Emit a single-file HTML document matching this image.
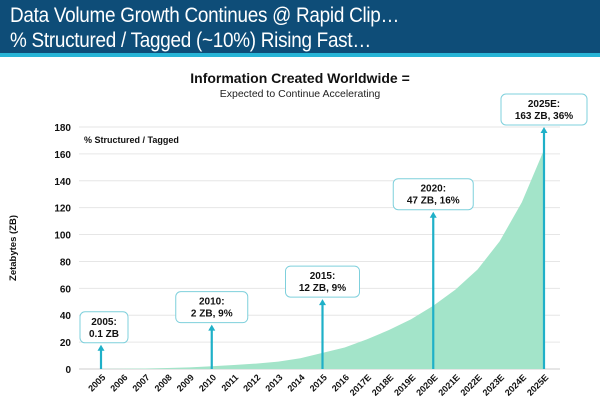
<!DOCTYPE html>
<html><head><meta charset="utf-8"><style>
body{margin:0;width:600px;height:414px;overflow:hidden;background:#fff;font-family:"Liberation Sans",Arial,sans-serif}
</style></head><body>
<div style="position:absolute;left:0;top:0;width:600px;height:53px;background:#0e4d78;border-bottom:4px solid #27b4d6"></div>
<div style="position:absolute;left:10px;top:3px;color:#fff;font-size:21px;line-height:25px;letter-spacing:-0.3px;transform:scaleX(0.9);transform-origin:0 0;white-space:nowrap">Data Volume Growth Continues @ Rapid Clip…<br>% Structured / Tagged (~10%) Rising Fast…</div>
<svg width="600" height="414" style="position:absolute;left:0;top:0">
<text x="300" y="83" text-anchor="middle" font-size="14" font-weight="bold" fill="#111">Information Created Worldwide =</text>
<text x="300" y="97" text-anchor="middle" font-size="10.5" fill="#222">Expected to Continue Accelerating</text>
<text x="84" y="143" font-size="9" font-weight="bold" fill="#111">% Structured / Tagged</text>
<text transform="translate(16,248) rotate(-90)" text-anchor="middle" font-size="9.5" font-weight="bold" fill="#111">Zetabytes (ZB)</text>
<g id="grid"></g><path id="area" fill="#a3e4c9"></path><g id="xl"></g><g id="ann"></g>
</svg>
<script>
const years=['2005','2006','2007','2008','2009','2010','2011','2012','2013','2014','2015','2016','2017E','2018E','2019E','2020E','2021E','2022E','2023E','2024E','2025E'];
const values=[0.1,0.2,0.4,0.7,1.2,2,3,4,5.5,8,12,16,22,29,37,47,59,74,95,124,163];
const yTicks=[0,20,40,60,80,100,120,140,160,180];
const annYears=['2005','2010','2015','2020E','2025E'];
const annL1=['2005:','2010:','2015:','2020:','2025E:'];
const annL2=['0.1 ZB','2 ZB, 9%','12 ZB, 9%','47 ZB, 16%','163 ZB, 36%'];
const annTop=[18,33,52,117,180];
const NS='http://www.w3.org/2000/svg';
const X=i=>101+i*22.15, Y=v=>369-v*(242/180);
function el(t,a,p){const e=document.createElementNS(NS,t);for(const k in a)e.setAttribute(k,a[k]);document.getElementById(p).appendChild(e);return e;}
yTicks.forEach(v=>{
 const l=el('line',{x1:79,x2:560,y1:Y(v),y2:Y(v),stroke:v?'#e6e6e6':'#ccc','stroke-width':1},'grid');
 
 
 const t=el('text',{x:71,y:Y(v)+4,'text-anchor':'end','font-size':10,'font-weight':'bold',fill:'#111'},'grid');t.textContent=v;
 
 
});
let d='M'+X(0)+','+Y(0);values.forEach((v,i)=>d+=' L'+X(i)+','+Y(v));d+=' L'+X(values.length-1)+','+Y(0)+'Z';
const a=document.getElementById('area');a.setAttribute('d',d);


years.forEach((y,i)=>{
 const t=el('text',{transform:`translate(${X(i)+5},${378}) rotate(-45)`,'text-anchor':'end','font-size':9,'font-weight':'bold',fill:'#111'},'xl');t.textContent=y;
 
 
});
annYears.forEach((y,k)=>{
 const i=years.indexOf(y),x=X(i),top=Y(annTop[k]);
 const ln=el('line',{x1:x,x2:x,y1:Y(0),y2:top+4,stroke:'#1fb0c8','stroke-width':2.2},'ann');
 
 
 const hd=el('path',{d:`M${x-3.5},${top+6} L${x},${top} L${x+3.5},${top+6}Z`,fill:'#1fb0c8'},'ann');
 
 
 const w=[48,72,74,80,86][k],bx=x-w/2+([3,0,0,0,-0][k]),by=top-33;
 const r=el('rect',{x:bx,y:by,width:w,height:31,rx:5,fill:'#fff',stroke:'#7fd0dc','stroke-width':1},'ann');
 
 
 [annL1[k],annL2[k]].forEach((s,j)=>{
  const t=el('text',{x:bx+w/2,y:by+13+j*12,'text-anchor':'middle','font-size':10,'font-weight':'bold',fill:'#111'},'ann');t.textContent=s;
  
  
 });
});
</script>
</body></html>
